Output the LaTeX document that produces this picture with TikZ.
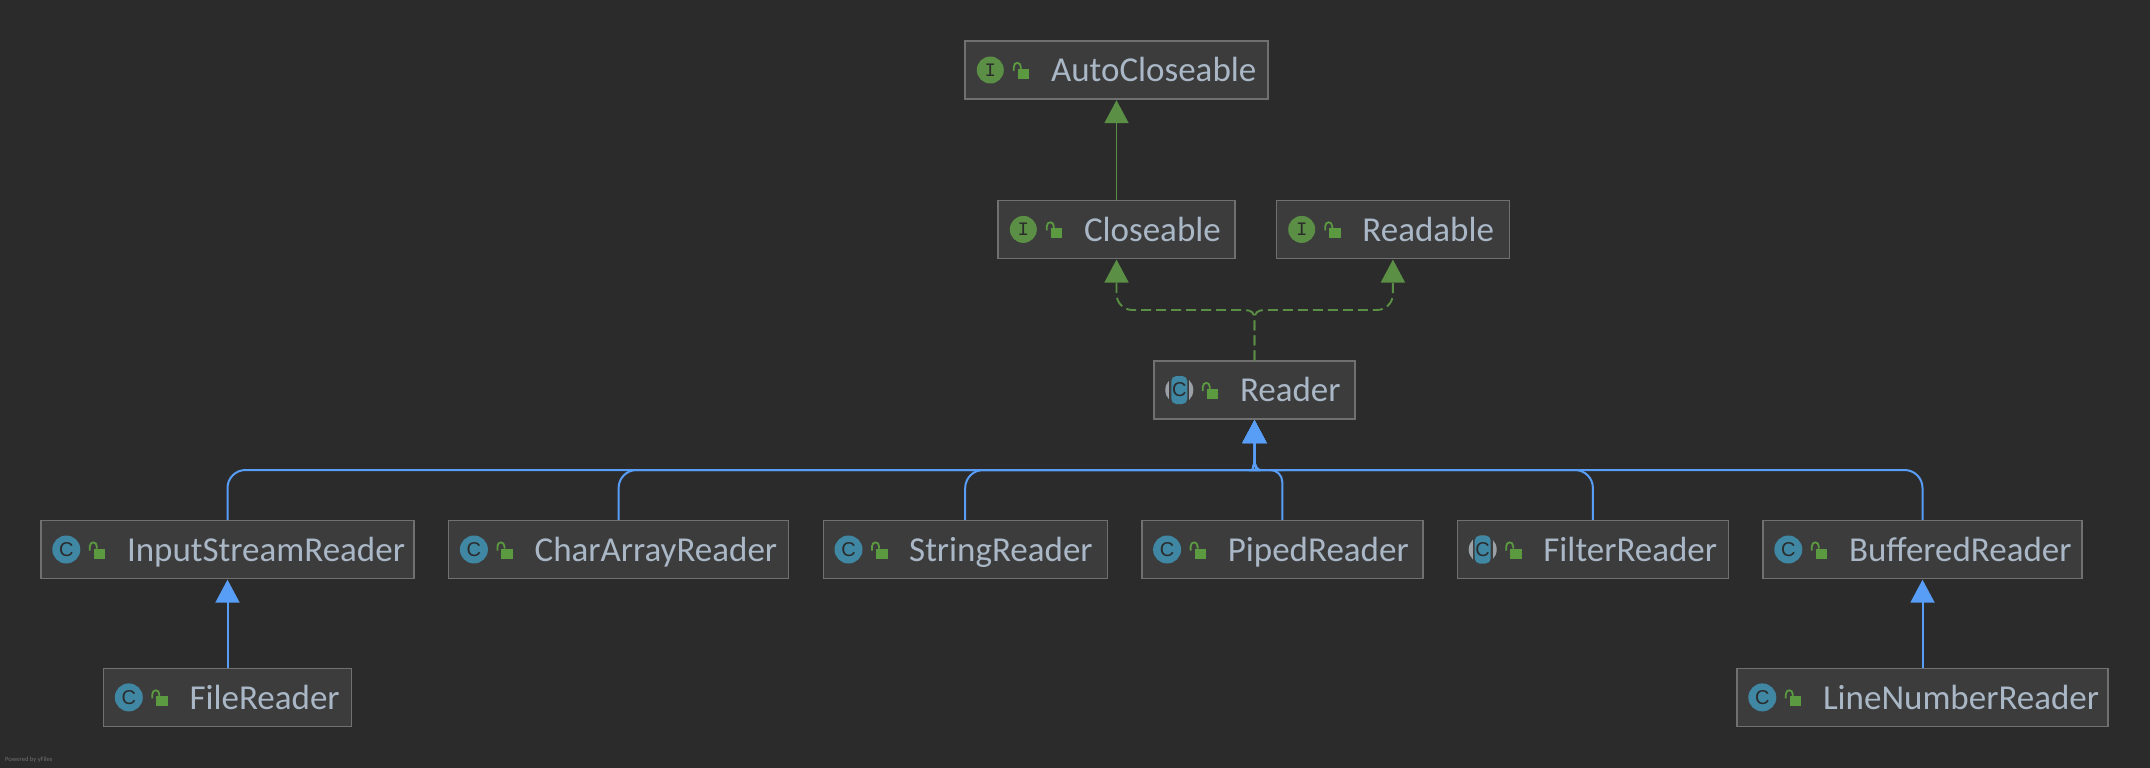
\documentclass[tikz,border=0pt]{standalone}
\usepackage{fontspec}
\setmainfont{Carlito}
\newfontfamily\iconfont{Liberation Mono}
\newfontfamily\classfont{Liberation Sans}
\usetikzlibrary{arrows.meta,positioning}
\definecolor{canvas}{HTML}{2B2B2B}
\definecolor{boxfill}{HTML}{3C3C3C}
\definecolor{boxline}{HTML}{707070}
\definecolor{labeltext}{HTML}{A9B7C6}
\definecolor{extendblue}{HTML}{589DF6}
\definecolor{ifacegreen}{HTML}{5A8F45}
\definecolor{lockgreen}{HTML}{5B9A40}
\definecolor{classteal}{HTML}{3F87A3}
\definecolor{abstractgrey}{HTML}{9AA0A6}
\begin{document}
\begin{tikzpicture}[
  x=1pt, y=-1pt,
  node distance=33.2pt,
  box/.style={draw=boxline, fill=boxfill, line width=1.4pt, text=labeltext, text width=#1, inner xsep=0pt, inner ysep=0pt, minimum height=58pt, text height=30pt, text depth=6.6pt, align=left, font=\fontsize{35}{40}\selectfont, execute at begin node={\hspace*{86pt}}},
  classicon/.style={circle, fill=classteal, text=canvas, minimum size=28pt, inner sep=0pt, font=\classfont\fontsize{20}{20}\selectfont},
  ifaceicon/.style={circle, fill=ifacegreen, text=canvas, minimum size=27pt, inner sep=0pt, font=\iconfont\fontsize{19}{19}\selectfont},
  abstracticon/.style={rectangle, rounded corners=5pt, fill=classteal, text=canvas, minimum width=16pt, minimum height=28pt, inner sep=0pt, font=\classfont\fontsize{20}{20}\selectfont},
  lockmark/.pic={
    \fill[lockgreen] (53.5,-1) rectangle (65,9);
    \draw[lockgreen, line width=1.8pt] (49.5,1) -- (49.5,-3) .. controls (49.5,-8.5) and (56.5,-8.5) .. (56.5,-3) -- (56.5,-1);
  },
  abstractmark/.pic={
    \fill[abstractgrey] (26,0) circle (14pt);
    \fill[boxfill] (16,-14) rectangle (36,14);
  },
  extends/.style={-{Triangle[length=23pt,width=24pt]}, extendblue, line width=2pt, shorten >=0.5pt},
  iface/.style={-{Triangle[length=23pt,width=24pt]}, ifacegreen, line width=1.9pt, shorten >=0.5pt},
  implements/.style={iface, dash pattern=on 10pt off 5pt}
]
\useasboundingbox[fill=canvas] (0,0) rectangle (2150,768);
% boxes
\node[box=303pt] (autocloseable) at (1116.5,70) {AutoCloseable};
\node[box=237pt, below=100pt of autocloseable] (closeable) {Closeable};
\node[box=233pt, right=40pt of closeable] (readable) {Readable};
\node[box=201pt] (reader) at (1254.5,390) {Reader};
\node[box=373pt] (inputstream) at (227.5,549.5) {InputStreamReader};
\node[box=340pt, right=of inputstream] (chararray) {CharArrayReader};
\node[box=284pt, right=of chararray] (stringreader) {StringReader};
\node[box=281pt, right=of stringreader] (piped) {PipedReader};
\node[box=271pt, right=of piped] (filter) {FilterReader};
\node[box=319pt, right=of filter] (buffered) {BufferedReader};
\node[box=248pt, below=88.5pt of inputstream] (file) {FileReader};
\node[box=371pt, below=88.5pt of buffered] (linenumber) {LineNumberReader};
% icons
\node[ifaceicon] (autocloseableicon) at ([xshift=26pt]autocloseable.west) {I};
\node[ifaceicon] (closeableicon) at ([xshift=26pt]closeable.west) {I};
\node[ifaceicon] (readableicon) at ([xshift=26pt]readable.west) {I};
\pic at (reader.west) {abstractmark};
\node[abstracticon] (readericon) at ([xshift=26pt]reader.west) {C};
\node[classicon] (inputstreamicon) at ([xshift=26pt]inputstream.west) {C};
\node[classicon] (chararrayicon) at ([xshift=26pt]chararray.west) {C};
\node[classicon] (stringreadericon) at ([xshift=26pt]stringreader.west) {C};
\node[classicon] (pipedicon) at ([xshift=26pt]piped.west) {C};
\pic at (filter.west) {abstractmark};
\node[abstracticon] (filtericon) at ([xshift=26pt]filter.west) {C};
\node[classicon] (bufferedicon) at ([xshift=26pt]buffered.west) {C};
\node[classicon] (fileicon) at ([xshift=26pt]file.west) {C};
\node[classicon] (linenumbericon) at ([xshift=26pt]linenumber.west) {C};
% locks
\pic at (autocloseable.west) {lockmark};
\pic at (closeable.west) {lockmark};
\pic at (readable.west) {lockmark};
\pic at (reader.west) {lockmark};
\pic at (inputstream.west) {lockmark};
\pic at (chararray.west) {lockmark};
\pic at (stringreader.west) {lockmark};
\pic at (piped.west) {lockmark};
\pic at (filter.west) {lockmark};
\pic at (buffered.west) {lockmark};
\pic at (file.west) {lockmark};
\pic at (linenumber.west) {lockmark};
\node[text=boxline, inner sep=0pt, anchor=west, font=\fontsize{6.5}{7}\selectfont] (poweredby) at (5,760) {Powered by yFiles};
% connectors
\coordinate (busjoin) at (reader.south |- 0,470);
\coordinate (dashjoin) at (reader.north |- 0,310);
\draw[iface] (closeable) -- (autocloseable);
\draw[extends] (file) -- (inputstream);
\draw[extends] (linenumber) -- (buffered);
\draw[implements] (reader.north) -- ([yshift=-9pt]dashjoin) .. controls ([yshift=-3pt]dashjoin) and ([xshift=-3pt]dashjoin) .. ([xshift=-10pt]dashjoin) [rounded corners=16pt] -| (closeable.south);
\draw[implements] (reader.north) -- ([yshift=-9pt]dashjoin) .. controls ([yshift=-3pt]dashjoin) and ([xshift=3pt]dashjoin) .. ([xshift=10pt]dashjoin) [rounded corners=16pt] -| (readable.south);
\draw[extends] (inputstream.north) [rounded corners=18pt] |- ([xshift=-18pt]busjoin) [sharp corners] .. controls ([xshift=-4pt]busjoin) and ([yshift=3pt]busjoin) .. ([yshift=10pt]busjoin) -- (reader.south);
\draw[extends] (chararray.north) [rounded corners=18pt] |- ([xshift=-18pt]busjoin) [sharp corners] .. controls ([xshift=-4pt]busjoin) and ([yshift=3pt]busjoin) .. ([yshift=10pt]busjoin) -- (reader.south);
\draw[extends] (stringreader.north) [rounded corners=18pt] |- ([xshift=-18pt]busjoin) [sharp corners] .. controls ([xshift=-4pt]busjoin) and ([yshift=3pt]busjoin) .. ([yshift=10pt]busjoin) -- (reader.south);
\draw[extends] (piped.north) [rounded corners=12pt] |- ([xshift=18pt]busjoin) [sharp corners] .. controls ([xshift=4pt]busjoin) and ([yshift=3pt]busjoin) .. ([yshift=10pt]busjoin) -- (reader.south);
\draw[extends] (filter.north) [rounded corners=18pt] |- ([xshift=18pt]busjoin) [sharp corners] .. controls ([xshift=4pt]busjoin) and ([yshift=3pt]busjoin) .. ([yshift=10pt]busjoin) -- (reader.south);
\draw[extends] (buffered.north) [rounded corners=18pt] |- ([xshift=18pt]busjoin) [sharp corners] .. controls ([xshift=4pt]busjoin) and ([yshift=3pt]busjoin) .. ([yshift=10pt]busjoin) -- (reader.south);
\end{tikzpicture}
\end{document}
